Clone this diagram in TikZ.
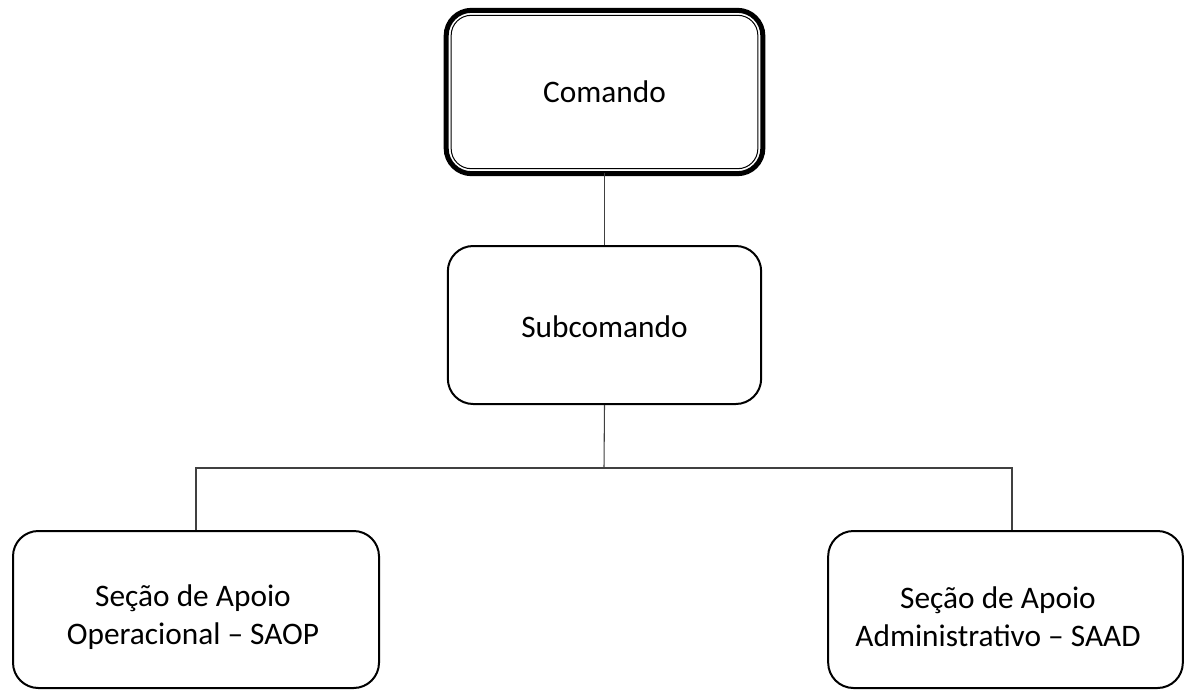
\documentclass[tikz,border=0pt]{standalone}
\usepackage{fontspec}
\setmainfont{Carlito}
\begin{document}
\begin{tikzpicture}[x=0.75pt,y=-0.75pt,
  box/.style={draw=black, line width=1.5pt, rounded corners=19pt, fill=white,
    inner sep=0pt, align=center, font=\fontsize{23.5}{28.5}\selectfont},
  txt/.style={inner sep=0pt, align=center, font=\fontsize{23.5}{28.5}\selectfont},
  conn/.style={draw=black!75, line width=0.8pt}]
\useasboundingbox[fill=white] (0,0) rectangle (1185,692);
% Comando (double border)
\node[box, line width=0.75pt, rounded corners=15pt, minimum width=230pt, minimum height=115pt] (cmd) at (604.5,92) {Comando};
\draw[line width=3.75pt, rounded corners=19pt] ([shift={(-4.5,-4.5)}]cmd.north west) rectangle ([shift={(4.5,4.5)}]cmd.south east);
\node[box, minimum width=235pt, minimum height=118.5pt] (sub) at (604.5,325) {};
\node[txt] (subt) at (604.5,327) {Subcomando};
\node[box, minimum width=274.5pt, minimum height=117.75pt] (saop) at (196,609.5) {};
\node[txt] (saopt) at (193,617) {Seção de Apoio\\Operacional – SAOP};
\node[box, minimum width=266pt, minimum height=117.75pt] (saad) at (1005.5,609.5) {};
\node[txt] (saadt) at (998,617) {Seção de Apoio\\Administrativo – SAAD};
\coordinate (bus) at (604,468);
\coordinate (rj) at (1012,468);
\draw[conn] ([yshift=-2.6pt]cmd.south) -- (sub.north);
\draw[conn] (sub.south) -- (bus);
\draw[conn] (bus) -| (saop.north);
\draw[conn] (bus) -- (rj) -- (rj |- saad.north);
\end{tikzpicture}
\end{document}
